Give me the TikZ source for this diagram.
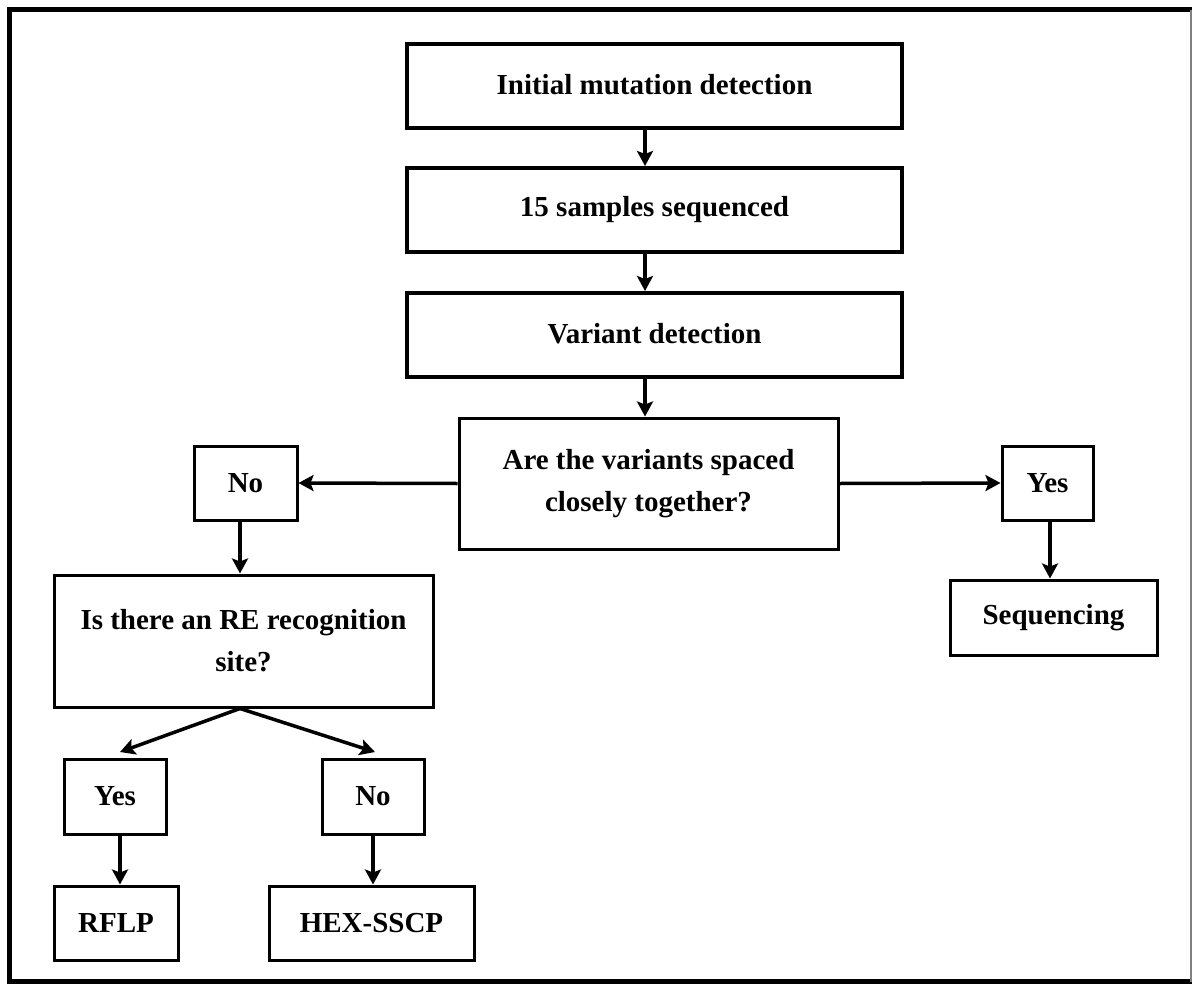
\documentclass[tikz,border=0pt]{standalone}
\usepackage{fontspec}
\setmainfont{Liberation Serif}
\usetikzlibrary{arrows.meta,calc}
\begin{document}
\begin{tikzpicture}[x=1pt,y=-1pt,
  box/.style={draw=black,line width=3pt,inner sep=0pt,align=center,font=\fontsize{29}{42}\selectfont\bfseries},
  bigbox/.style={box,line width=4pt},
  arr/.style={line width=3.5pt,-{Stealth[length=15pt,width=16pt,inset=3pt]}}]
\useasboundingbox (0,0) rectangle (1192,985);
% frame
\draw[line width=5pt] (1192,9.5) -- (9.5,9.5) -- (9.5,981.5) -- (1192,981.5);
\draw[line width=1.5pt,gray] (1191,9.5) -- (1191,981.5);
% nodes
\node[bigbox,minimum width=495pt,minimum height=84pt] (init) at (654.5,86) {\raisebox{3pt}{Initial mutation detection}};
\node[bigbox,minimum width=495pt,minimum height=84pt] (s15) at (654.5,210) {\raisebox{3pt}{15 samples sequenced}};
\node[bigbox,minimum width=495pt,minimum height=84pt] (var) at (654.5,335) {\raisebox{3pt}{Variant detection}};
\node[box,minimum width=379pt,minimum height=131pt] (q) at (648.5,483.5) {Are the variants spaced\\closely together?};
\node[box,minimum width=103pt,minimum height=74pt] (no1) at (245.5,483) {No};
\node[box,minimum width=91pt,minimum height=74pt] (yes1) at (1047.5,483) {Yes};
\node[box,minimum width=207pt,minimum height=75pt] (seqg) at (1053.5,617.5) {Sequencing};
\node[box,minimum width=379pt,minimum height=132pt] (re) at (243.5,641) {Is there an RE recognition\\site?};
\node[box,minimum width=102pt,minimum height=75pt] (yes2) at (115,796.5) {Yes};
\node[box,minimum width=102pt,minimum height=75pt] (no2) at (373,796.5) {No};
\node[box,minimum width=124pt,minimum height=74pt] (rflp) at (116,923) {RFLP};
\node[box,minimum width=205pt,minimum height=74pt] (hex) at (371.5,923) {HEX-SSCP};
% helper coordinates
\coordinate (cx) at (645,0);
\coordinate (ta) at (120,752);
\coordinate (tb) at (375,752);
\coordinate (ra) at (240,0);
\coordinate (rb) at (1050,0);
\coordinate (rc) at (120,0);
\coordinate (rd) at (373,0);
% connectors
\draw[arr] (init.south -| cx) -- (s15.north -| cx);
\draw[arr] (s15.south -| cx) -- (var.north -| cx);
\draw[arr] (var.south -| cx) -- (q.north -| cx);
\draw[arr] (q.west) -- (no1.east);
\draw[arr] (q.east) -- (yes1.west);
\draw[arr] (no1.south -| ra) -- (re.north -| ra);
\draw[arr] (yes1.south -| rb) -- (seqg.north -| rb);
\draw[arr] (re.south -| ra) -- (ta);
\draw[arr] (re.south -| ra) -- (tb);
\draw[arr] (yes2.south -| rc) -- (rflp.north -| rc);
\draw[arr] (no2.south -| rd) -- (hex.north -| rd);
\end{tikzpicture}
\end{document}
